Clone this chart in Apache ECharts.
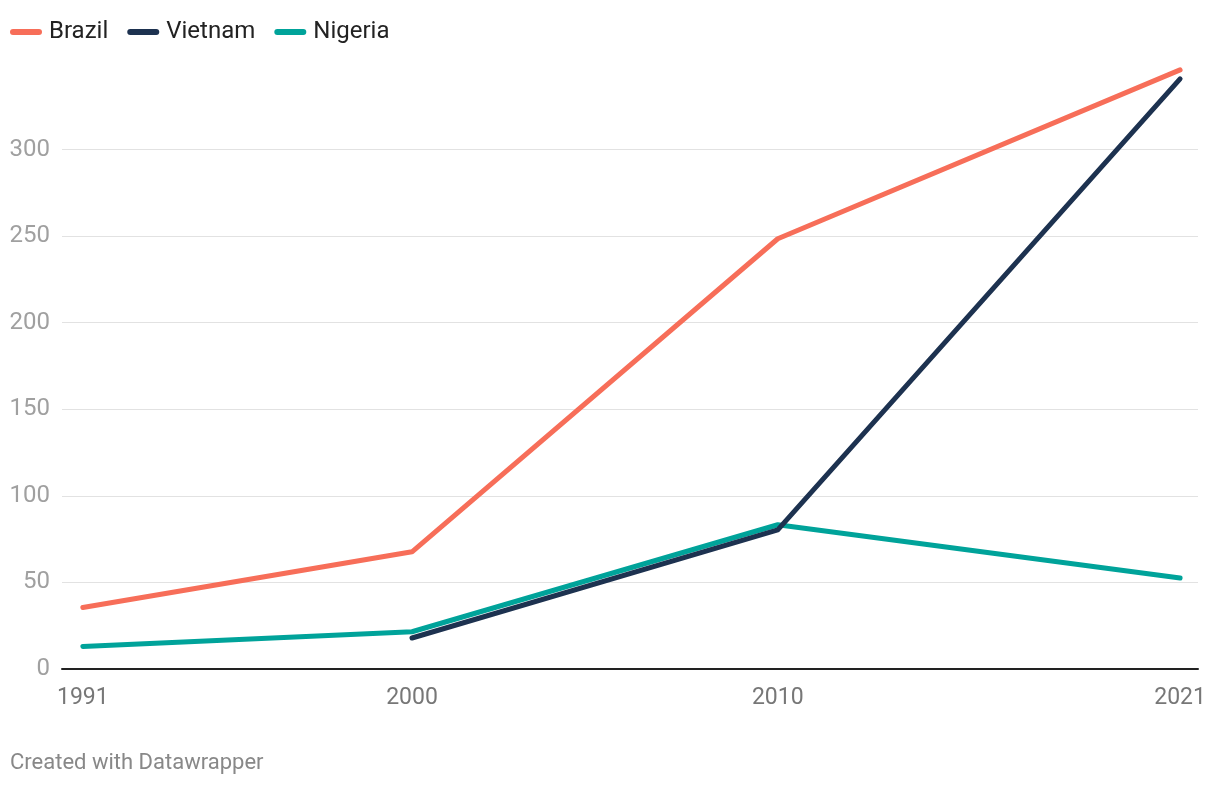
<!DOCTYPE html>
<html>
<head>
<meta charset="utf-8">
<script src="https://cdn.jsdelivr.net/npm/echarts@6/dist/echarts.min.js"></script>
<style>
html,body{margin:0;padding:0;background:#fff;}
#chart{width:1220px;height:786px;}
</style>
</head>
<body>
<div id="chart"></div>
<script>
var years = [1991, 2000, 2010, 2021];
var xTickLabels = [1991, 2000, 2010, 2021];
var brazil = [35.5, 67.7, 248.5, 346];
var vietnam = [null, 17.9, 80.4, 340.8];
var nigeria = [13, 21.5, 83.3, 52.5];
var seriesNames = ['Brazil', 'Vietnam', 'Nigeria'];
var colors = ['#f76e59', '#1d3250', '#00a39a'];

function pairs(vals) {
  var out = [];
  for (var i = 0; i < years.length; i++) {
    if (vals[i] !== null) out.push([years[i], vals[i]]);
  }
  return out;
}

var FONT = 'Roboto, "Noto Sans", sans-serif';
var legendIcon = 'path://M3,0 L29,0 A3,3 0 0 1 29,6 L3,6 A3,3 0 0 1 3,0 Z';

var chart = echarts.init(document.getElementById('chart'), null, {renderer: 'canvas'});
var allVals = [brazil, vietnam, nigeria];
var zs = [2, 4, 3];
var series = seriesNames.map(function (n, i) {
  return {
    name: n,
    type: 'line',
    data: pairs(allVals[i]),
    showSymbol: false,
    symbol: 'none',
    z: zs[i],
    lineStyle: {width: 5, color: colors[i], cap: 'round', join: 'round'},
    itemStyle: {color: colors[i]},
    emphasis: {disabled: true},
    animation: false
  };
});

chart.setOption({
  animation: false,
  textStyle: {fontFamily: FONT},
  legend: {
    left: 10,
    top: 20,
    padding: 0,
    itemWidth: 32,
    itemHeight: 6,
    itemGap: 19,
    icon: legendIcon,
    textStyle: {fontSize: 24, color: '#222', fontFamily: FONT, padding: [0, 0, 0, 2]},
    data: seriesNames
  },
  grid: {left: 62, right: 22, top: 63, bottom: 117, containLabel: false},
  xAxis: {
    type: 'value',
    min: 1990.43,
    max: 2021.49,
    axisLine: {show: true, onZero: false, lineStyle: {color: '#222', width: 2}},
    axisTick: {show: false},
    splitLine: {show: false},
    axisLabel: {
      customValues: xTickLabels,
      fontSize: 23,
      color: '#777',
      margin: 18,
      fontFamily: FONT,
      formatter: function (v) { return String(v); }
    }
  },
  yAxis: {
    type: 'value',
    min: 0,
    max: 350,
    interval: 50,
    axisLine: {show: false},
    axisTick: {show: false},
    splitLine: {show: true, showMaxLine: false, showMinLine: false, lineStyle: {color: '#e2e2e2', width: 1}},
    axisLabel: {
      showMaxLabel: false,
      fontSize: 24,
      color: '#a0a0a0',
      margin: 12,
      fontFamily: FONT
    }
  },
  graphic: [{
    type: 'text',
    left: 10,
    top: 752,
    style: {text: 'Created with Datawrapper', fontSize: 22, fill: '#888', fontFamily: FONT}
  }],
  series: series
});
</script>
</body>
</html>
